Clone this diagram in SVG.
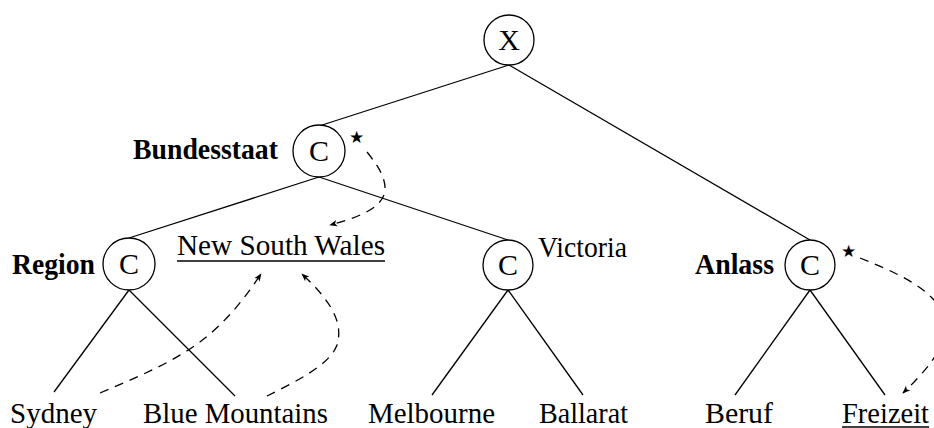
<svg xmlns="http://www.w3.org/2000/svg" width="934" height="428" viewBox="0 0 934 428">
<style>
text{font-family:"Liberation Serif","DejaVu Serif",serif;font-size:29px;fill:#000}
.b{font-weight:bold}
.n circle{fill:#fff;stroke:#000;stroke-width:1.3}
.n text{text-anchor:middle;font-size:30px}
.e{stroke:#000;stroke-width:1.3;fill:none}
.d{stroke:#000;stroke-width:1.3;fill:none;stroke-dasharray:9 7;marker-end:url(#ah)}
.u{stroke:#000;stroke-width:1.3}
.s{font-family:"DejaVu Sans",sans-serif;font-size:17px}
</style>
<defs>
<marker id="ah" viewBox="0 0 10 10" refX="9" refY="5" markerWidth="8" markerHeight="8" orient="auto" markerUnits="userSpaceOnUse">
<path d="M0,1 L10,5 L0,9 L2.5,5 Z" fill="#000"/>
</marker>
</defs>
<g id="edges">
<line class="e" x1="509" y1="65" x2="319" y2="126"/>
<line class="e" x1="509" y1="65" x2="810" y2="240"/>
<line class="e" x1="319" y1="177" x2="129" y2="238"/>
<line class="e" x1="319" y1="177" x2="508" y2="240"/>
<line class="e" x1="129" y1="290" x2="54" y2="392"/>
<line class="e" x1="129" y1="290" x2="235" y2="396"/>
<line class="e" x1="508" y1="290" x2="432" y2="395"/>
<line class="e" x1="508" y1="290" x2="583" y2="395"/>
<line class="e" x1="810" y1="290" x2="735" y2="395"/>
<line class="e" x1="810" y1="290" x2="885" y2="395"/>
<path class="d" d="M367,152 C380,168 388,182 384,195 C378,210 356,218 330,225"/>
<path class="d" d="M100,393 C150,372 180,358 205,338 C230,318 246,296 261,274"/>
<path class="d" d="M267,396 C295,382 330,365 337,345 C344,322 330,300 302,274"/>
<path class="d" d="M860,258 C900,274 935,290 945,318 C952,342 925,372 903,393"/>
</g>
<g id="nX" class="n"><circle cx="509" cy="40" r="25"/><text x="509" y="50">X</text></g>
<g id="nBundesstaat" class="n"><circle cx="319" cy="151" r="26"/><text x="319" y="161">C</text></g>
<text class="b" x="133" y="159" textLength="145" lengthAdjust="spacingAndGlyphs">Bundesstaat</text>
<text class="s" x="349" y="143">★</text>
<g id="nRegion" class="n"><circle cx="129" cy="264" r="26"/><text x="129" y="274">C</text></g>
<text class="b" x="12" y="274" textLength="83" lengthAdjust="spacingAndGlyphs">Region</text>
<g id="nNSW"><text x="177" y="255" textLength="208" lengthAdjust="spacingAndGlyphs">New South Wales</text><line class="u" x1="177" y1="261" x2="385" y2="261"/></g>
<g id="nVictoria" class="n"><circle cx="508" cy="265" r="25"/><text x="508" y="275">C</text></g>
<text x="538" y="257" textLength="89" lengthAdjust="spacingAndGlyphs">Victoria</text>
<g id="nAnlass" class="n"><circle cx="810" cy="265" r="25"/><text x="810" y="275">C</text></g>
<text class="b" x="695" y="274" textLength="79" lengthAdjust="spacingAndGlyphs">Anlass</text>
<text class="s" x="841" y="257">★</text>
<g id="lSydney"><text x="10" y="423" textLength="87" lengthAdjust="spacingAndGlyphs">Sydney</text></g>
<g id="lBlue"><text x="143" y="423" textLength="185" lengthAdjust="spacingAndGlyphs">Blue Mountains</text></g>
<g id="lMelbourne"><text x="368" y="423" textLength="127" lengthAdjust="spacingAndGlyphs">Melbourne</text></g>
<g id="lBallarat"><text x="539" y="423" textLength="89" lengthAdjust="spacingAndGlyphs">Ballarat</text></g>
<g id="lBeruf"><text x="705" y="423" textLength="68" lengthAdjust="spacingAndGlyphs">Beruf</text></g>
<g id="lFreizeit"><text x="842" y="423" textLength="87" lengthAdjust="spacingAndGlyphs">Freizeit</text><line class="u" x1="842" y1="427" x2="929" y2="427"/></g>
</svg>
